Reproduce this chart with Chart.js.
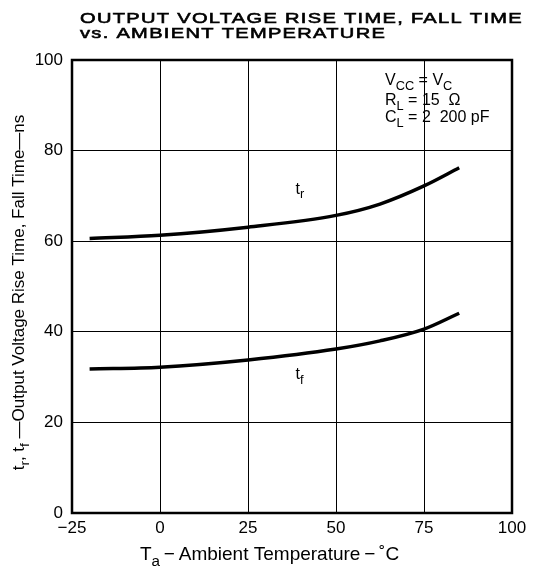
<!DOCTYPE html>
<html lang="en">
<head>
    <meta charset="UTF-8">
    <title>Output Voltage Rise Time, Fall Time vs. Ambient Temperature</title>
    <style>
        html, body { margin: 0; padding: 0; background: #fff; }
        #wrap { width: 543px; height: 569px; }
    </style>
</head>
<body>
    <div id="wrap"><canvas id="riseFallChart"></canvas></div>

    <script src="https://cdn.jsdelivr.net/npm/chart.js"></script>
    <script>
        // values
        var temps = [-20, 0, 25, 50, 62.5, 75, 85];
        var riseTime = [60.6, 61.3, 63.1, 65.7, 68.2, 72.2, 76.2];
        var fallTime = [31.8, 32.2, 33.8, 36.2, 38.0, 40.6, 44.1];
        var xTicks = [-25, 0, 25, 50, 75, 100];
        var yTicks = [0, 20, 40, 60, 80, 100];

        var FONT = '"Liberation Sans", Arial, sans-serif';

        function toPoints(xs, ys) {
            return xs.map(function (x, i) { return { x: x, y: ys[i] }; });
        }

        // draw text made of [text, isSubscript] pieces
        function drawRich(ctx, parts, x, y, size) {
            parts.forEach(function (p) {
                var sz = p[1] ? size * 0.8 : size;
                ctx.font = sz + 'px ' + FONT;
                ctx.fillText(p[0], x, p[1] ? y + size * 0.3 : y);
                x += ctx.measureText(p[0]).width;
            });
            return x;
        }
        function richWidth(ctx, parts, size) {
            var w = 0;
            parts.forEach(function (p) {
                ctx.font = (p[1] ? size * 0.8 : size) + 'px ' + FONT;
                w += ctx.measureText(p[0]).width;
            });
            return w;
        }

        var decorations = {
            id: 'decorations',
            afterDraw: function (chart) {
                var ctx = chart.ctx;
                var xs = chart.scales.x, ys = chart.scales.y;
                var area = chart.chartArea;
                ctx.save();
                ctx.fillStyle = '#000';
                ctx.strokeStyle = '#000';
                ctx.textBaseline = 'alphabetic';
                ctx.textAlign = 'left';

                // title: wide medium-weight caps, stretched to the original width
                ctx.font = '15.5px ' + FONT;
                ctx.letterSpacing = '1px';
                var t1 = 'OUTPUT VOLTAGE RISE TIME, FALL TIME';
                var t2 = 'vs. AMBIENT TEMPERATURE';
                var k = 443 / ctx.measureText(t1).width;
                ctx.save();
                ctx.translate(80, 0);
                ctx.scale(k, 1);
                ctx.lineWidth = 0.6;
                ctx.fillText(t1, 0, 23);
                ctx.strokeText(t1, 0, 23);
                ctx.fillText(t2, 0, 38);
                ctx.strokeText(t2, 0, 38);
                ctx.restore();
                ctx.letterSpacing = '0px';

                // frame
                ctx.lineWidth = 2.5;
                ctx.strokeRect(area.left, area.top, area.right - area.left, area.bottom - area.top);

                // conditions box
                drawRich(ctx, [['V', 0], ['CC', 1], [' = V', 0], ['C', 1]], 385, 85, 16);
                drawRich(ctx, [['R', 0], ['L', 1], [' = 15  \u03A9', 0]], 385, 105, 16);
                drawRich(ctx, [['C', 0], ['L', 1], [' = 2  200 pF', 0]], 385, 122, 16);

                // curve labels
                drawRich(ctx, [['t', 0], ['r', 1]], xs.getPixelForValue(38.5), ys.getPixelForValue(70.5), 16);
                drawRich(ctx, [['t', 0], ['f', 1]], xs.getPixelForValue(38.5), ys.getPixelForValue(29.5), 16);

                // x axis title
                var xt = [['T', 0], ['a', 1], ['\u2009\u2212\u2009Ambient Temperature\u2009\u2212\u2009\u02DAC', 0]];
                drawRich(ctx, xt, 140, 560, 19);

                // y axis title, rotated
                ctx.translate(24, (area.top + area.bottom) / 2);
                ctx.rotate(-Math.PI / 2);
                var yt = [['t', 0], ['r', 1], [', t', 0], ['f', 1], [' \u2014Output Voltage Rise Time, Fall Time\u2014ns', 0]];
                var yw = richWidth(ctx, yt, 17);
                drawRich(ctx, yt, -yw / 2 - 6, 0, 17);

                ctx.restore();
            }
        };

        var ctx = document.getElementById('riseFallChart').getContext('2d');
        new Chart(ctx, {
            type: 'line',
            data: {
                datasets: [
                    {
                        label: 'tr',
                        data: toPoints(temps, riseTime),
                        borderColor: '#000',
                        borderWidth: 3.5,
                        pointRadius: 0,
                        cubicInterpolationMode: 'monotone',
                        fill: false
                    },
                    {
                        label: 'tf',
                        data: toPoints(temps, fallTime),
                        borderColor: '#000',
                        borderWidth: 3.5,
                        pointRadius: 0,
                        cubicInterpolationMode: 'monotone',
                        fill: false
                    }
                ]
            },
            options: {
                responsive: true,
                maintainAspectRatio: false,
                animation: false,
                layout: { padding: { left: 0, right: 31, top: 60, bottom: 0 } },
                plugins: {
                    legend: { display: false },
                    tooltip: { enabled: false }
                },
                scales: {
                    x: {
                        type: 'linear',
                        min: -25,
                        max: 100,
                        afterBuildTicks: function (s) {
                            s.ticks = xTicks.map(function (v) { return { value: v }; });
                        },
                        afterFit: function (s) { s.height = 56; },
                        grid: { color: '#000', lineWidth: 1, drawTicks: false },
                        border: { display: false },
                        ticks: {
                            color: '#000',
                            padding: 5,
                            font: { family: FONT, size: 17 },
                            callback: function (v) { return v < 0 ? '\u2212' + Math.abs(v) : v; }
                        }
                    },
                    y: {
                        type: 'linear',
                        min: 0,
                        max: 100,
                        afterBuildTicks: function (s) {
                            s.ticks = yTicks.map(function (v) { return { value: v }; });
                        },
                        afterFit: function (s) { s.width = 72; },
                        grid: { color: '#000', lineWidth: 1, drawTicks: false },
                        border: { display: false },
                        ticks: {
                            color: '#000',
                            padding: 9,
                            font: { family: FONT, size: 17 }
                        }
                    }
                }
            },
            plugins: [decorations]
        });
    </script>
</body>
</html>
